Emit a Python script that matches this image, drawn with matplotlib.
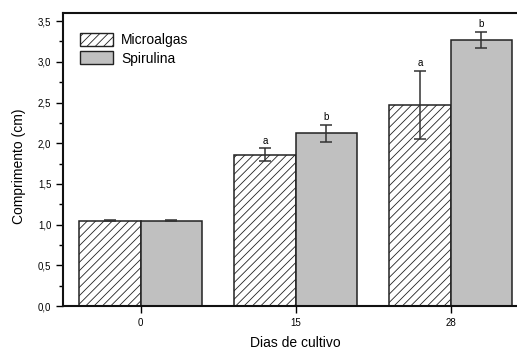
import numpy as np
import matplotlib.pyplot as plt
from matplotlib.patches import Patch
from matplotlib.ticker import MultipleLocator, FuncFormatter

plt.rcParams['font.family'] = ['Liberation Sans', 'DejaVu Sans']
plt.rcParams['hatch.linewidth'] = 0.6

DPI = 100

days = ['0', '15', '28']
microalgas = [1.05, 1.86, 2.47]
microalgas_err = [0.01, 0.08, 0.42]
spirulina = [1.05, 2.12, 3.27]
spirulina_err = [0.01, 0.11, 0.10]
letters_micro = ['', 'a', 'a']
letters_spir = ['', 'b', 'b']

fig = plt.figure(figsize=(517/DPI, 351/DPI), dpi=DPI)
ax = fig.add_axes([63/517, 1 - 306/351, 465/517, 293/351])

x = np.arange(len(days))
w = 0.394
edge = '#222222'
ax.bar(x - w/2, microalgas, w, color='white', edgecolor=edge, hatch='////', linewidth=1.1)
ax.bar(x + w/2, spirulina, w, color='#c0c0c0', edgecolor=edge, linewidth=1.1)
ax.errorbar(x - w/2, microalgas, yerr=microalgas_err, fmt='none', ecolor='#333333',
            elinewidth=1.1, capsize=4.3, capthick=1.1)
ax.errorbar(x + w/2, spirulina, yerr=spirulina_err, fmt='none', ecolor='#333333',
            elinewidth=1.1, capsize=4.3, capthick=1.1)

for xi, v, e, t in zip(x - w/2, microalgas, microalgas_err, letters_micro):
    if t:
        ax.text(xi, v + e + 0.03, t, ha='center', va='bottom', fontsize=7)
for xi, v, e, t in zip(x + w/2, spirulina, spirulina_err, letters_spir):
    if t:
        ax.text(xi, v + e + 0.03, t, ha='center', va='bottom', fontsize=7)

ax.set_xlim(-0.5, 2.5)
ax.set_ylim(0, 3.6)
ax.set_xticks(x)
ax.set_xticklabels(days, fontsize=7)
ax.yaxis.set_major_locator(MultipleLocator(0.5))
ax.yaxis.set_minor_locator(MultipleLocator(0.25))
ax.yaxis.set_major_formatter(FuncFormatter(lambda v, p: f'{v:.1f}'.replace('.', ',')))
ax.tick_params(axis='y', labelsize=7, direction='out', length=5, width=1)
ax.tick_params(axis='y', which='minor', length=3, width=1)
ax.tick_params(axis='x', direction='out', length=5, width=1)
for s in ['left', 'bottom', 'top', 'right']:
    ax.spines[s].set_linewidth(1.5)
    ax.spines[s].set_color('#111111')

ax.set_xlabel('Dias de cultivo', fontsize=10, labelpad=6)
ax.set_ylabel('Comprimento (cm)', fontsize=10)
ax.yaxis.set_label_coords(-0.08, 0.478)

handles = [Patch(facecolor='white', edgecolor=edge, hatch='////', label='Microalgas'),
           Patch(facecolor='#c0c0c0', edgecolor=edge, label='Spirulina')]
ax.legend(handles=handles, loc='upper left', frameon=False, fontsize=10,
          handlelength=2.4, handleheight=1.1, handletextpad=0.6, labelspacing=0.3,
          bbox_to_anchor=(0.0, 0.99), borderaxespad=0.8)

plt.savefig('out.png', dpi=DPI)
